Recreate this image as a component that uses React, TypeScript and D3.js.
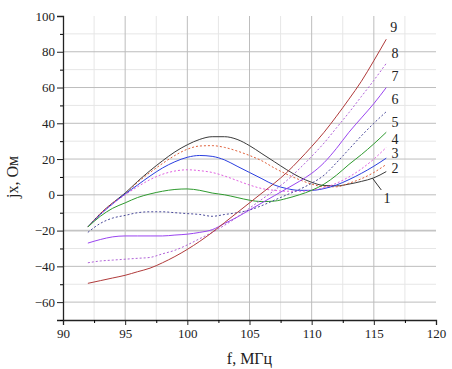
import React, { useEffect, useRef } from "react";
import * as d3 from "d3";

// frequency, MHz
const freqs = [92, 93, 94, 95, 96, 97, 98, 99, 100, 101, 102, 103, 104, 105, 106, 107, 108, 109, 110, 111, 112, 113, 114, 115, 116];

// jx, Ohm for curves 1..9
const curve1 = [-18, -10.5, -4.5, 1, 7.5, 13.5, 19, 24, 28, 31, 32.5, 32.5, 31, 27.5, 23, 18.5, 14, 10, 7, 5.2, 5, 6, 7.5, 9.5, 13];
const curve2 = [-18, -10.5, -4.5, 0.5, 7, 12.5, 17.5, 22, 25.5, 27.3, 27.5, 26.5, 24.5, 22, 19, 15, 11.5, 8.5, 6, 4.5, 4.5, 6.5, 9, 12.5, 17];
const curve3 = [-18, -11, -5, 0.5, 5.5, 10.5, 15, 18.5, 21, 22, 21.5, 19.5, 16, 12.5, 9, 5.5, 3.5, 2.5, 2.5, 3.5, 5.5, 8.5, 12, 16, 20.5];
const curve4 = [-18, -11, -5, 0, 4.5, 8.5, 11.5, 13.3, 14, 13.5, 12.5, 10.5, 8, 5.5, 3.5, 2.5, 2, 2, 2.5, 4, 6.5, 10, 14.5, 20, 26.5];
const curve5 = [-18, -12, -7.5, -4.5, -1.5, 0.5, 2, 3, 3.3, 2.5, 1, 0, -1.5, -3, -3.8, -3.5, -2, 0, 2.5, 6, 11, 17, 22.5, 28.5, 35];
const curve6 = [-21, -16, -13, -11.5, -10, -9.5, -9.5, -10, -10.5, -11, -12, -11, -10, -8.5, -6, -3, 0, 3, 6.5, 11, 18, 25.5, 33, 40, 46.5];
const curve7 = [-27, -25, -23.5, -23, -23, -23, -23, -22.5, -22, -21, -19.5, -16, -12.5, -8.5, -4.5, -0.5, 3.5, 7.5, 12, 18, 26, 35, 43, 51, 60];
const curve8 = [-38, -37, -36.5, -36, -35.5, -35, -33, -31, -28, -24.5, -21, -17, -12.5, -7.5, -2.5, 2.5, 8, 14.5, 21.5, 29, 37.5, 46, 55, 64, 73.5];
const curve9 = [-49.5, -48, -46.5, -45, -43, -41, -38, -34.5, -30.5, -26, -21, -15.5, -10, -4.5, 1, 6.5, 12.5, 19.5, 27, 35, 44, 53.5, 63.5, 75, 87];

const curveNames = ["1", "2", "3", "4", "5", "6", "7", "8", "9"];
const curveValues = [curve1, curve2, curve3, curve4, curve5, curve6, curve7, curve8, curve9];
const curveColors = ["#3a3a3a", "#e0603a", "#2a3ee0", "#e060e0", "#2e9a2e", "#4a4a9a", "#9a45f0", "#b060d8", "#b03a3a"];
const curveDashed = [false, true, false, true, false, true, false, true, false];

// label anchor positions (f, jx) next to the line ends
const labelF = [116.05, 116.7, 116.7, 116.7, 116.7, 116.7, 116.7, 116.7, 116.6];
const labelV = [-1.7, 15, 23.2, 31.4, 40.4, 53.4, 66.2, 79.3, 93.8];

const xTicks = [90, 95, 100, 105, 110, 115, 120];
const yTicks = [-60, -40, -20, 0, 20, 40, 60, 80, 100];

export default function App() {
  const ref = useRef<SVGSVGElement>(null);

  useEffect(() => {
    const svg = d3.select(ref.current);
    svg.selectAll("*").remove();

    const x = d3.scaleLinear().domain([90, 120]).range([63, 436]);
    const y = d3.scaleLinear().domain([-70, 100]).range([320, 16]);

    const font = "'Liberation Serif', 'Times New Roman', serif";

    // minor grid
    const g = svg.append("g");
    d3.range(92.5, 120, 5).forEach(f => {
      g.append("line").attr("x1", x(f)).attr("x2", x(f)).attr("y1", y(-70)).attr("y2", y(100))
        .attr("stroke", "#e6e6e6").attr("stroke-width", 1);
    });
    d3.range(-50, 100, 20).forEach(v => {
      g.append("line").attr("x1", x(90)).attr("x2", x(120)).attr("y1", y(v)).attr("y2", y(v))
        .attr("stroke", "#e6e6e6").attr("stroke-width", 1);
    });
    // major grid
    [95, 100, 105, 110, 115].forEach(f => {
      g.append("line").attr("x1", x(f)).attr("x2", x(f)).attr("y1", y(-70)).attr("y2", y(100))
        .attr("stroke", "#bdbdbd").attr("stroke-width", 1);
    });
    [-60, -40, -20, 0, 20, 40, 60, 80].forEach(v => {
      g.append("line").attr("x1", x(90)).attr("x2", x(120)).attr("y1", y(v)).attr("y2", y(v))
        .attr("stroke", v === -20 ? "#c4c4c4" : "#bdbdbd").attr("stroke-width", v === -20 ? 1.8 : 1);
    });

    // axes
    const xAxis = svg.append("g").attr("transform", `translate(0,${y(-70)})`)
      .call(d3.axisBottom(x).tickValues(xTicks).tickSize(5).tickPadding(4).tickFormat(d3.format("d")));
    svg.append("g").attr("transform", `translate(0,${y(-70)})`)
      .call(d3.axisBottom(x).tickValues(d3.range(92.5, 120, 5)).tickSize(3).tickFormat(() => ""))
      .select(".domain").remove();
    const yAxis = svg.append("g").attr("transform", `translate(${x(90)},0)`)
      .call(d3.axisLeft(y).tickValues(yTicks).tickSize(6).tickPadding(2).tickFormat(d3.format("d")));
    svg.append("g").attr("transform", `translate(${x(90)},0)`)
      .call(d3.axisLeft(y).tickValues(d3.range(-70, 100, 20)).tickSize(3).tickFormat(() => ""))
      .select(".domain").remove();

    [xAxis, yAxis].forEach(a => {
      a.attr("font-family", font);
      a.select(".domain").attr("stroke", "#222").attr("stroke-width", 1.3);
      a.selectAll("line").attr("stroke", "#222");
      a.selectAll("text").style("font-family", font).attr("font-size", 13).attr("fill", "#222");
    });

    // curves
    const line = d3.line<number>()
      .x((_, i) => x(freqs[i]))
      .y(d => y(d))
      .curve(d3.curveMonotoneX);

    curveValues.forEach((vals, k) => {
      svg.append("path")
        .datum(vals)
        .attr("d", line)
        .attr("fill", "none")
        .attr("stroke", curveColors[k])
        .attr("stroke-width", 1)
        .attr("stroke-dasharray", curveDashed[k] ? "2,2" : null);
    });

    // leader for curve 1
    svg.append("line")
      .attr("x1", x(114.9)).attr("y1", y(9.2))
      .attr("x2", x(115.6)).attr("y2", y(2.7))
      .attr("stroke", "#333").attr("stroke-width", 1);

    // curve labels
    curveNames.forEach((n, k) => {
      svg.append("text")
        .attr("x", x(labelF[k]))
        .attr("y", y(labelV[k]))
        .attr("dy", "0.35em")
        .attr("text-anchor", "middle")
        .style("font-family", font)
        .attr("font-size", 14)
        .attr("fill", "#222")
        .text(n);
    });

    // axis titles
    svg.append("text")
      .attr("x", (x(90) + x(120)) / 2)
      .attr("y", 364)
      .attr("text-anchor", "middle")
      .style("font-family", font)
      .attr("font-size", 16)
      .attr("fill", "#222")
      .text("f, МГц");

    svg.append("text")
      .attr("transform", `translate(18,${y(10)}) rotate(-90)`)
      .attr("text-anchor", "middle")
      .style("font-family", font)
      .attr("font-size", 16)
      .attr("fill", "#222")
      .text("jx, Ом");
  }, []);

  return (
    <svg
      ref={ref}
      width={452}
      height={369}
      style={{ position: "absolute", left: 0, top: 0, background: "#fff" }}
    />
  );
}
